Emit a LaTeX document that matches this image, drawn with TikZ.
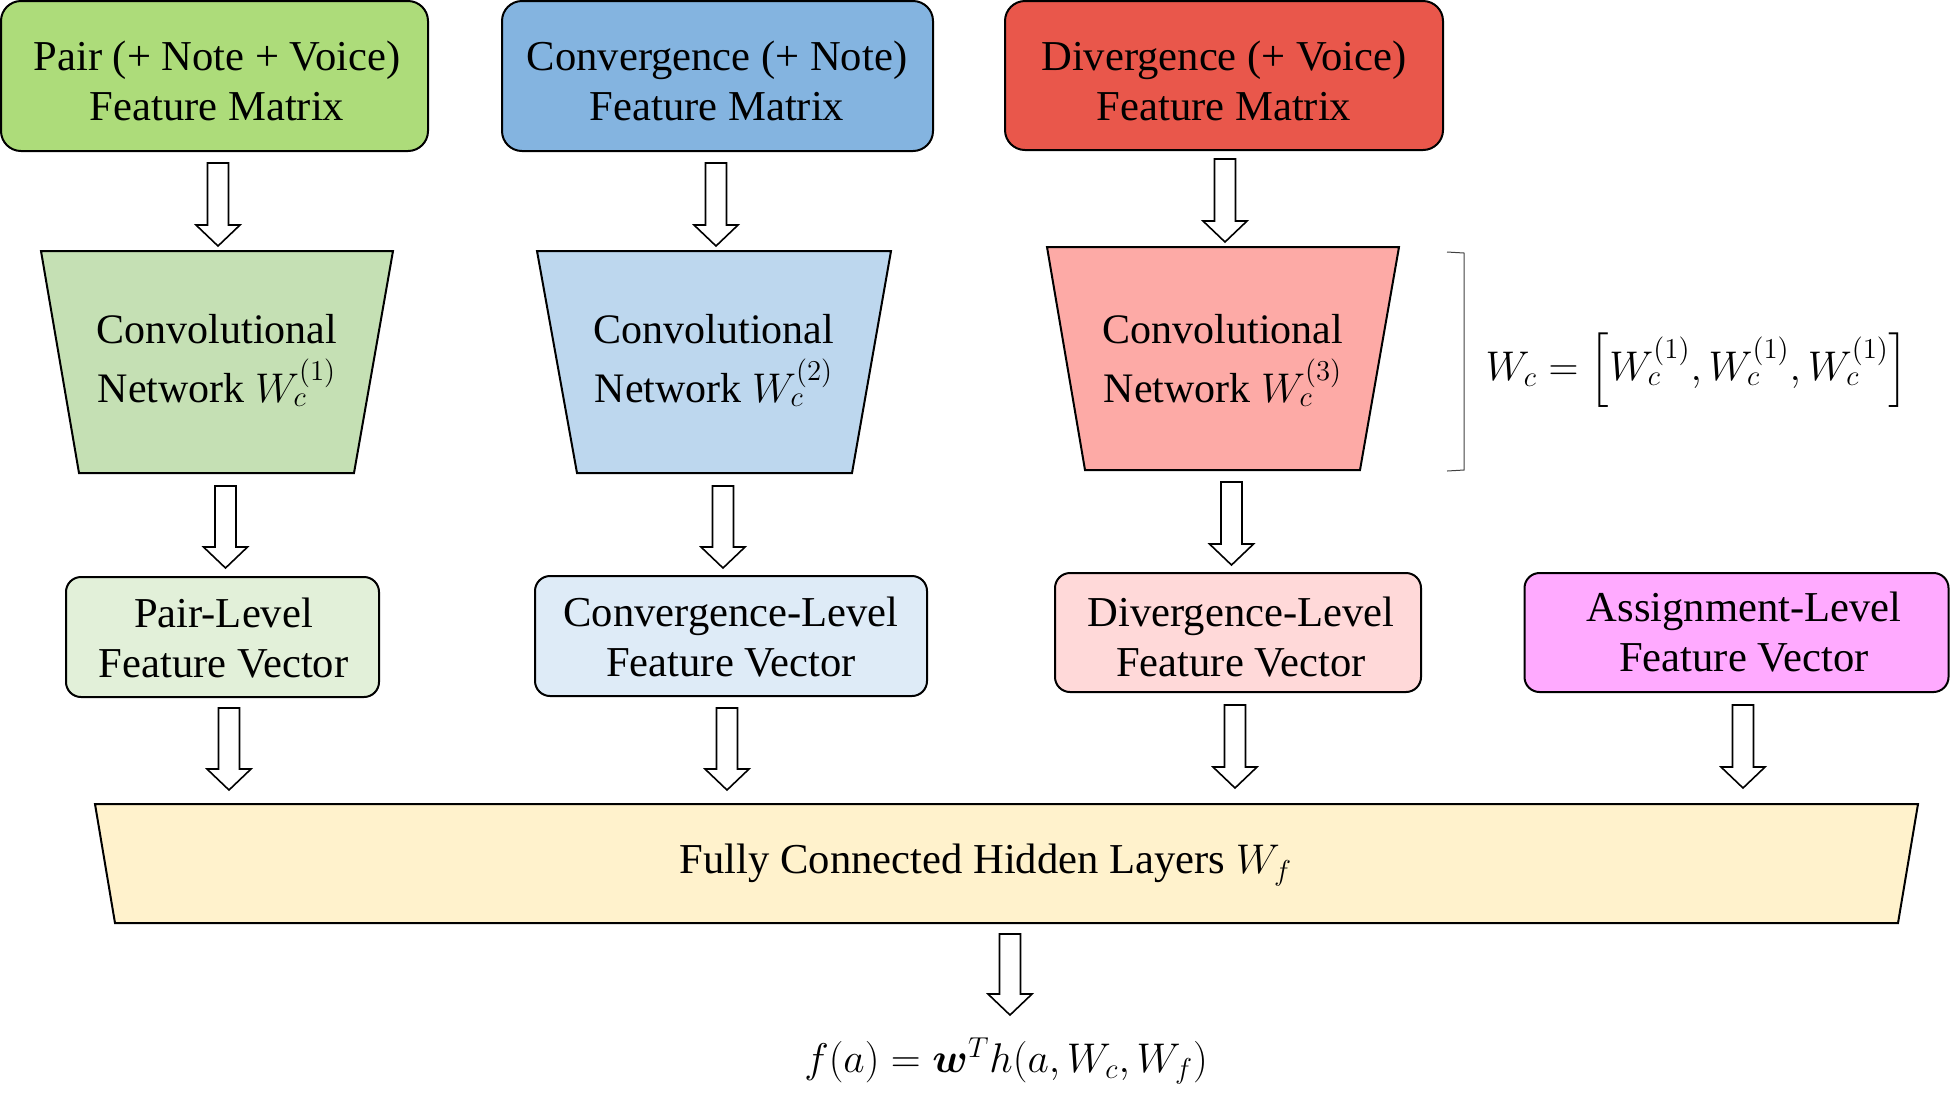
\documentclass[tikz,border=0pt]{standalone}
\usepackage{exscale}
\usepackage{bm}
\usepackage{fontspec}
\setmainfont{Liberation Serif}
\usetikzlibrary{calc}
\definecolor{gTop}{RGB}{173,220,122}
\definecolor{gMid}{RGB}{197,224,180}
\definecolor{gLow}{RGB}{226,240,217}
\definecolor{bTop}{RGB}{132,180,224}
\definecolor{bMid}{RGB}{189,215,238}
\definecolor{bLow}{RGB}{222,235,247}
\definecolor{rTop}{RGB}{233,87,75}
\definecolor{rMid}{RGB}{253,170,166}
\definecolor{rLow}{RGB}{255,217,217}
\definecolor{pLow}{RGB}{255,170,255}
\definecolor{yBig}{RGB}{255,242,204}
\newcommand{\mainfs}{\fontsize{21.3}{25}\selectfont}
\newcommand{\convfs}{\fontsize{21}{29.5}\selectfont}
\newcommand{\myblockarrow}[2]{%
  \path[barrow] let \p1=(#1), \p2=(#2) in
   (\x1-5.25pt,\y1) -- (\x1+5.25pt,\y1) -- (\x1+5.25pt,\y2+10.5pt) -- (\x1+11pt,\y2+10.5pt)
   -- (\x1,\y2) -- (\x1-11pt,\y2+10.5pt) -- (\x1-5.25pt,\y2+10.5pt) -- cycle;}
\tikzset{
  topbox/.style={draw=black, line width=1pt, rounded corners=10pt,
    inner sep=0pt, minimum height=75pt},
  vecbox/.style={draw=black, line width=1pt, rounded corners=7.5pt,
    inner sep=0pt},
  boxtext/.style={align=center, inner sep=0pt, font=\mainfs},
  trap/.style={draw=black, line width=1pt, line join=miter},
  convtext/.style={align=center, inner sep=0pt, font=\convfs},
  plaintext/.style={inner sep=0pt, font=\mainfs},
  barrow/.style={draw=black, fill=white, line width=0.8pt, line join=miter},
  brace/.style={draw=black!75, line width=0.5pt}
}
\begin{document}
\begin{tikzpicture}[x=0.5pt,y=-0.5pt]
\useasboundingbox (0,0) rectangle (1953,1105);

% top feature matrices
\node[topbox, fill=gTop, minimum width=213.5pt] (top1) at (214.5,76) {};
\node[topbox, fill=bTop, minimum width=215.5pt] (top2) at (717.5,76) {};
\node[topbox, fill=rTop, minimum width=219pt, minimum height=74.5pt] (top3) at (1224,75.5) {};
\node[boxtext] (top1t) at (217,81) {Pair (+ Note + Voice)\\Feature Matrix};
\node[boxtext] (top2t) at (717,81) {Convergence (+ Note)\\Feature Matrix};
\node[boxtext] (top3t) at (1224,81) {Divergence (+ Voice)\\Feature Matrix};

% convolutional networks
\path[trap, fill=gMid] (41,251) -- (393,251) -- (354,473) -- (79,473) -- cycle;
\path[trap, fill=bMid] (537,251) -- (891,251) -- (852,473) -- (577,473) -- cycle;
\path[trap, fill=rMid] (1047,247) -- (1399,247) -- (1360,470) -- (1085,470) -- cycle;
\node[convtext] (conv1) at (217,360.5) {Convolutional\\Network $W_c^{(1)}$};
\node[convtext] (conv2) at (714,360.5) {Convolutional\\Network $W_c^{(2)}$};
\node[convtext] (conv3) at (1223,360.5) {Convolutional\\Network $W_c^{(3)}$};

% bracket and W_c definition
\draw[brace] (1447,252) -- (1464,253) -- (1464,470) -- (1447,471);
\node[plaintext, font=\fontsize{22}{26}\selectfont] (wc) at (1697,370) {$W_c = \Bigl[W_c^{(1)}, W_c^{(1)}, W_c^{(1)}\Bigr]$};

% feature vectors
\node[vecbox, fill=gLow, minimum width=156.5pt, minimum height=60pt] (vec1) at (222.5,637) {};
\node[vecbox, fill=bLow, minimum width=196pt, minimum height=60pt] (vec2) at (731,636) {};
\node[vecbox, fill=rLow, minimum width=183pt, minimum height=59.5pt] (vec3) at (1238,632.5) {};
\node[vecbox, fill=pLow, minimum width=212pt, minimum height=59.5pt] (vec4) at (1736.5,632.5) {};
\node[boxtext] (vec1t) at (223.5,638) {Pair-Level\\Feature Vector};
\node[boxtext] (vec2t) at (731,637) {Convergence-Level\\Feature Vector};
\node[boxtext] (vec3t) at (1241,637) {Divergence-Level\\Feature Vector};
\node[boxtext] (vec4t) at (1744,632.5) {Assignment-Level\\Feature Vector};

% fully connected layers
\path[trap, fill=yBig] (95,804) -- (1918,804) -- (1898,923) -- (115,923) -- cycle;
\node[plaintext] (fc) at (986,865) {Fully Connected Hidden Layers $W_f$};

% output
\node[plaintext] (out) at (1006,1061) {$f(a) = \bm{w}^T h(a, W_c, W_f)$};

% arrow end points
\coordinate (a1s) at (218,163);   \coordinate (a1e) at (218,246);
\coordinate (a2s) at (716,163);   \coordinate (a2e) at (716,246);
\coordinate (a3s) at (1225,159);  \coordinate (a3e) at (1225,242);
\coordinate (c1s) at (225.5,486); \coordinate (c1e) at (225.5,568);
\coordinate (c2s) at (723,486);   \coordinate (c2e) at (723,568);
\coordinate (c3s) at (1231.5,482);\coordinate (c3e) at (1231.5,565);
\coordinate (d1s) at (229,708);   \coordinate (d1e) at (229,790);
\coordinate (d2s) at (727,708);   \coordinate (d2e) at (727,790);
\coordinate (d3s) at (1235,705);  \coordinate (d3e) at (1235,788);
\coordinate (d4s) at (1743,705);  \coordinate (d4e) at (1743,788);
\coordinate (es) at (1010,934);   \coordinate (ee) at (1010,1015);

\myblockarrow{a1s}{a1e}
\myblockarrow{a2s}{a2e}
\myblockarrow{a3s}{a3e}
\myblockarrow{c1s}{c1e}
\myblockarrow{c2s}{c2e}
\myblockarrow{c3s}{c3e}
\myblockarrow{d1s}{d1e}
\myblockarrow{d2s}{d2e}
\myblockarrow{d3s}{d3e}
\myblockarrow{d4s}{d4e}
\myblockarrow{es}{ee}
\end{tikzpicture}
\end{document}
